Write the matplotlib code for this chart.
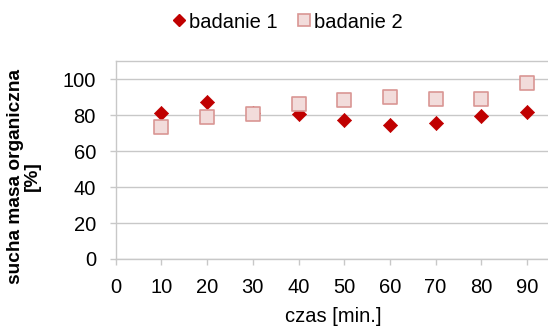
import matplotlib
matplotlib.use("Agg")
import matplotlib.pyplot as plt
from matplotlib.lines import Line2D

plt.rcParams['font.family'] = ['Liberation Sans', 'DejaVu Sans']

czas = [10, 20, 30, 40, 50, 60, 70, 80, 90]
badanie_1 = [81.1, 87.2, 81.0, 80.5, 77.2, 74.5, 75.6, 79.6, 82.0]
badanie_2 = [73.7, 78.8, 80.9, 86.1, 88.3, 90.2, 89.1, 89.2, 98.0]
x_ticks = [0, 10, 20, 30, 40, 50, 60, 70, 80, 90]
y_ticks = [0, 20, 40, 60, 80, 100]

W, H = 548, 327
fig = plt.figure(figsize=(W / 100, H / 100), dpi=100)
x0, x100 = 115.7, 572.7
y0, y110 = 259.0, 61.3
ax = fig.add_axes([x0 / W, (H - y0) / H, (x100 - x0) / W, (y0 - y110) / H])
ax.set_xlim(0, 100)
ax.set_ylim(0, 110)

grid_c = '#C8C8C8'
ax.set_yticks(y_ticks)
ax.set_xticks(x_ticks)
ax.set_xticklabels([str(v) for v in x_ticks])
ax.grid(axis='y', color=grid_c, linewidth=1.0)
ax.set_axisbelow(True)
for s in ['top', 'right', 'left', 'bottom']:
    ax.spines[s].set_color(grid_c)
    ax.spines[s].set_linewidth(1.0)
ax.tick_params(axis='both', colors=grid_c, labelcolor='black', labelsize=14.5,
               length=4.5, width=1.0, direction='out')
ax.tick_params(axis='x', pad=8.9)
ax.tick_params(axis='y', pad=9.7)

ax.scatter(czas, badanie_2, marker='s', s=92, facecolor='#F2DCDB',
           edgecolor='#D99694', linewidth=1.2, zorder=3, label='badanie 2')
ax.scatter(czas, badanie_1, marker='D', s=52, facecolor='#C00000',
           edgecolor='#C00000', linewidth=0.5, zorder=2, label='badanie 1')

fig.text(333 / W, 5.3 / H, 'czas [min.]', ha='center', va='baseline', fontsize=14.5)
fig.text(24 / W, 1 - 176 / H, 'sucha masa organiczna\n[%]', ha='center', va='center',
         rotation=90, fontsize=13.8, fontweight='bold', linespacing=1.0)

handles = [
    Line2D([], [], linestyle='none', marker='D', markersize=6.5,
           markerfacecolor='#C00000', markeredgecolor='#C00000'),
    Line2D([], [], linestyle='none', marker='s', markersize=8,
           markerfacecolor='#F2DCDB', markeredgecolor='#D99694', markeredgewidth=1.2),
]
fig.legend(handles, ['badanie 1', 'badanie 2'], loc='center', ncol=2,
           bbox_to_anchor=(288 / W, 1 - 22 / H), frameon=False, fontsize=14.5,
           handlelength=0.6, handletextpad=0.2, columnspacing=1.0,
           borderaxespad=0, borderpad=0)

fig.savefig('out.png', dpi=100)
